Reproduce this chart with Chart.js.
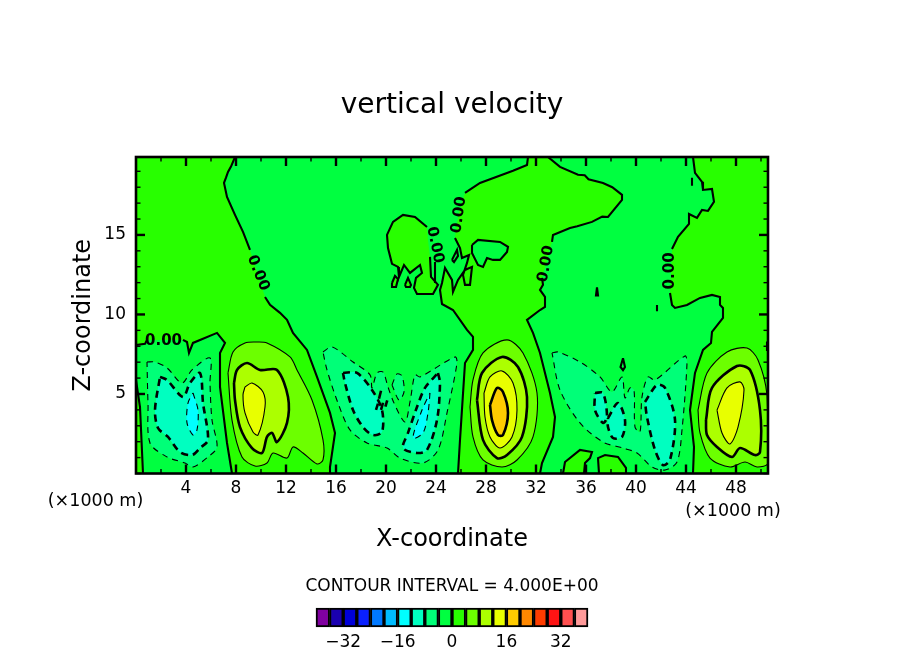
<!DOCTYPE html>
<html><head><meta charset="utf-8">
<style>html,body{margin:0;padding:0;background:#fff;width:904px;height:654px;overflow:hidden}
canvas{position:absolute;left:0}</style>
<script src="https://cdn.jsdelivr.net/npm/chart.js@4"></script></head>
<body><canvas id="main" width="904" height="654" style="top:0"></canvas>
<canvas id="bar" width="904" height="84" style="top:570px"></canvas>
<script>
const titleText = "vertical velocity", xTitle = "X-coordinate", zTitle = "Z-coordinate";
const intervalText = "CONTOUR INTERVAL = 4.000E+00", unitText = "(\u00d71000 m)";
const xMax = 50.56, zMax = 19.9;
const xTickLabels = [4,8,12,16,20,24,28,32,36,40,44,48];
const zTickLabels = [5,10,15];
const barLevels = [-40,-36,-32,-28,-24,-20,-16,-12,-8,-4,0,4,8,12,16,20,24,28,32,36,40];
const barTickLabels = [-32,-16,0,16,32];
const levelColors = ["#8000a0","#1a00b0","#0000d8","#0a20ff","#0078ff","#00bcff","#00ffff","#00ffc0","#00ff78","#00ff40","#28ff00","#6cff00","#acff00","#e8ff00","#ffcc00","#ff8800","#ff3c00","#ff1414","#ff5050","#ff9a9a"];

/* zero contour regions, [x (km), z (km)] */
const zeroLeftA = [[7.92,19.9],[7.6,19.3],[7.36,18.96],[7.2,18.6],[7.04,18.27],[7.28,17.39],[7.92,16.26],[8.56,15.19],[9.12,14.06]];
const zeroLeftB = [[10.32,11.1],[10.72,10.6],[11.52,10.1],[12.08,9.66],[12.56,8.84],[13.68,7.77],[14.48,6.07],[15.52,3.81],[15.92,2.55],[15.52,.41],[15.52,0]];
const zeroLeftC = [[7.68,0],[7.28,1.92],[6.72,5.44],[6.72,7.58],[7.12,8.21],[6.48,8.84],[4.56,8.21],[4.24,7.58],[4.08,8.27],[3.76,8.4]];
const zeroLeftD = [[.88,8.4],[.72,8.15],[0,8.08]];
const zeroSliver = [[0,5.88],[.08,5.44],[.32,4.18],[.56,0]];
const zeroMainA = [[25.76,0],[25.92,2.11],[26.32,6.95],[26.96,7.77],[26.96,8.59],[26.48,9.03],[25.36,10.28],[24.48,10.66],[24.32,11.54],[24.48,11.98],[24.72,12.93],[25.28,12.17],[25.36,11.42],[25.76,12.17],[26.32,12.8],[26.88,12.99],[26.72,11.86],[26.32,11.86],[26.16,12.49],[26.48,13.24],[26.64,13.74],[26.08,13.55],[25.92,14.18],[25.52,14.81]];
const zeroMainLabelEdgeL = [[25.6,15.38],[25.84,16.39],[26.08,17.08]];
const zeroMainB = [[26.32,17.64],[27.52,18.27],[30.16,19.03],[31.28,19.4],[31.36,19.9]];
const zeroMainC = [[32.96,19.9],[33.92,19.28],[35.36,18.78],[35.9,18.75],[36.2,18.5],[37.36,18.27],[38.1,18],[38.88,17.52],[38.88,17.2],[37.76,16.13],[37.3,16.15],[36.48,15.82],[35.3,15.55],[34.72,15.44],[33.36,15],[33.28,14.56]];
const zeroMainLabelEdgeR = [[33.04,14],[32.88,13.37]];
const zeroMainD = [[32.48,12.3],[32.56,11.86],[32.32,11.54],[32.72,11.1],[32.72,10.47],[32.32,10.28],[31.28,9.66],[31.76,8.84],[32.32,7.58],[33.12,5.06],[33.52,3.55],[33.36,2.3],[32.48,.66],[32.32,0]];
const zeroBlob = [[23.28,15.5],[22.32,16.13],[21.36,16.26],[20.56,15.82],[20.08,15],[20.16,14.18],[20.48,13.18],[20.96,12.99],[21.04,12.36],[21.44,13.11],[21.92,12.61],[22.72,13.11],[22.88,12.61],[22.4,12.3],[22.24,11.67],[22.48,11.29],[23.76,11.29],[24.16,11.86],[23.6,12.36],[23.52,13.62]];
const zeroBlobEdge = [[23.52,13.62],[23.36,14.69],[23.28,15.5]];
const zeroHole = [[26.88,14.37],[27.36,14.69],[29.12,14.56],[29.76,14.25],[29.68,13.93],[29.12,13.43],[28.56,13.43],[28.08,13.55],[27.76,12.99],[27.36,13.11],[26.88,13.87]];
const zeroHoleLoop = [[25.28,13.43],[25.68,14.06],[25.76,13.68],[25.44,13.3]];
const zeroOvalA = [[20.48,11.98],[20.72,12.42],[20.96,12.23],[20.8,11.73],[20.48,11.73]];
const zeroOvalB = [[21.52,11.86],[21.76,12.3],[22,11.86],[21.92,11.73],[21.6,11.73]];
const zeroColumn = [[23.92,13.3],[23.92,11.98]];
const zeroRightA = [[44.56,19.9],[44.72,18.9],[45.28,18.34],[45.36,17.83],[46.08,17.89],[46.24,17.08],[45.76,16.51],[45.28,16.57],[44.88,16.07],[44.24,16.32],[44.24,15.69],[43.36,14.88],[42.88,14.12]];
const zeroRightB = [[42.72,11.35],[42.88,10.6],[43.12,10.41],[44.08,10.6],[45.12,11.04],[46.08,11.23],[46.72,11.1],[46.72,10.6],[46.96,10.41],[46.96,9.78],[46.08,8.9],[46,8.21],[45.36,7.77],[44.72,6.32],[44.32,3.99],[44.64,1.67],[44.56,0]];
const zeroLobeL = [[34.16,0],[34.32,.72],[35.52,1.48],[36.48,1.35],[36.32,.97],[35.92,.66],[35.84,0]];
const zeroLobeR = [[37.04,0],[36.96,.97],[37.52,1.16],[38.56,1.04],[39.2,.35],[39.2,0]];
const zeroSpots = [
  [[44.48,18.6],[44.48,18.1]],
  [[41.68,10.6],[41.68,10.2]],
  [[36.88,11.7],[36.8,11.2],[36.96,11.2],[36.88,11.7]],
  [[50.48,8.3],[50.48,7.7]],
  [[38.96,7.25],[38.76,6.7],[38.96,6.5],[39.12,6.7],[38.96,7.25]]
];
/* closed contours */
const pos1L4 = [[7.36,6.32],[7.76,7.64],[8.72,8.21],[9.68,8.27],[10.48,8.21],[12.32,7.33],[12.88,6.51],[14.08,4.62],[14.96,2.11],[14.96,.85],[14.48,.6],[13.36,1.29],[12.56,1.67],[12.08,.97],[10.96,1.29],[10.48,.66],[9.52,.47],[8.48,1.04],[7.68,3.36]];
const pos1L8 = [[7.84,5.69],[8.08,6.51],[8.88,6.95],[9.92,6.51],[11.28,6.51],[12.16,4.81],[12.08,3.18],[11.28,1.98],[10.88,2.55],[10.48,2.3],[10.08,1.29],[9.28,1.6],[8.32,2.92],[7.92,4.62]];
const pos1L12 = [[8.72,5.44],[9.28,5.69],[10.16,5.13],[10.32,4.18],[9.76,2.42],[9.36,2.61],[8.72,3.81],[8.56,4.94]];
const pos2L4 = [[26.72,4.18],[26.96,5.88],[27.76,7.58],[29.68,8.4],[30.96,7.58],[32.08,5.06],[31.76,2.3],[30.48,.85],[29.28,.41],[27.76,.85],[26.96,2.3]];
const pos2L8 = [[27.28,4.62],[27.68,6.32],[29.28,7.33],[30.56,6.7],[31.28,4.81],[30.88,2.3],[29.68,1.16],[28.88,.97],[27.76,2.11]];
const pos2L12 = [[27.84,5.06],[28.32,6.07],[29.28,6.45],[30.16,5.69],[30.48,3.99],[30.08,2.3],[29.12,1.6],[28.32,2.3],[27.92,3.55]];
const pos2L16 = [[28.32,4.31],[28.88,5.38],[29.36,5.13],[29.76,3.81],[29.36,2.42],[28.96,2.42],[28.48,3.36]];
const pos3L4 = [[44.96,3.99],[45.68,6.32],[47.28,7.64],[48.88,7.89],[49.76,7.14],[50.48,4.94],[50.56,.66],[49.68,.41],[48.72,.72],[47.52,.41],[45.92,.97],[45.12,2.55]];
const pos3L8 = [[45.6,3.37],[46.08,5.38],[48.08,6.76],[49.12,6.51],[49.92,3.99],[49.92,1.35],[49.52,1.16],[48.32,1.6],[47.68,1.04],[46.48,1.67],[45.68,2.42]];
const pos3L12 = [[46.48,3.99],[47.28,5.38],[48.32,5.76],[48.64,5.25],[48.16,2.92],[47.52,1.86],[46.88,2.55]];
const neg1L4 = [[.88,7.01],[1.52,7.01],[2.48,6.64],[3.68,5.69],[4.48,6.51],[5.92,7.26],[5.92,5.69],[6.08,3.36],[6.48,1.67],[5.76,1.04],[4.56,.41],[3.92,.66],[2.48,1.04],[1.12,1.92],[.96,4.43]];
const neg1L8 = [[1.92,6.07],[2.48,5.88],[3.76,4.81],[4.32,5.69],[5.12,6.32],[5.36,4.43],[5.76,2.11],[5.12,1.6],[4.48,1.16],[3.52,1.35],[2.56,2.3],[1.76,2.86],[1.52,3.99]];
const neg1L12 = [[4.56,5.06],[4.96,3.99],[4.88,2.74],[4.56,2.42],[4.08,3.18],[4.16,4.43]];
const neg2L4 = [[14.96,7.64],[15.68,7.96],[17.36,7.01],[18.72,6.2],[18.88,5.38],[19.28,6.32],[19.76,6.38],[20.16,5.44],[20.64,4.43],[21.52,3.24],[21.92,4.5],[22.32,6.2],[22.72,6.07],[25.52,7.33],[25.68,6.95],[24.88,3.81],[24.16,1.48],[22.96,.66],[21.12,.97],[20.08,1.6],[18.48,1.92],[17.12,2.74],[16.16,4.43],[15.28,6.51]];
const neg2Finger = [[20.48,5.57],[20.88,6.26],[21.28,6.13],[21.44,5.13],[21.04,4.62]];
const neg2L8a = [[16.56,6.32],[17.68,6.32],[18.88,5.25],[19.68,3.99],[19.68,2.61],[18.96,2.42],[18.16,2.92],[17.36,3.99],[16.72,5.69]];
const neg2L8b = [[24.16,6.32],[24.32,5.69],[24.08,3.36],[23.28,1.48],[22.48,1.29],[21.36,1.6],[21.76,2.55],[22.48,4.18],[23.12,5.38]];
const neg2L12 = [[23.52,5.06],[23.36,3.81],[22.96,2.55],[22.16,2.23],[22.88,3.99]];
const neg2Bits = [[[19.6,5.2],[19.44,4.7]],[[19.2,4],[19.36,4.4]],[[19.6,4],[19.76,4.45]],[[19.95,4.2],[20.1,4.6]]];
const neg3L4 = [[33.28,7.58],[33.76,7.64],[35.52,7.01],[37.12,6.07],[38.08,5.13],[38.88,6.07],[39.12,4.75],[39.52,5.38],[39.84,5.25],[39.92,2.92],[40.32,2.61],[40.48,4.81],[40.96,6.07],[41.52,5.88],[43.92,7.39],[44.08,6.95],[43.68,2.74],[43.28,.72],[42.32,.22],[41.28,.41],[40.08,1.29],[38.96,1.6],[37.36,1.98],[35.52,3.18],[33.92,5.25]];
const neg3L8a = [[36.72,5.06],[37.36,5.06],[37.68,3.55],[37.36,3.18],[36.72,3.99]];
const neg3L8b = [[37.76,3.49],[38.56,4.43],[39.12,3.37],[38.88,2.3],[38.16,2.23],[37.76,2.92]];
const neg3L8c = [[40.72,4.5],[41.68,5.57],[42.32,5.38],[43.12,3.37],[42.72,.85],[42.16,.53],[41.52,1.48],[40.88,3.55]];
const contourLabels = [["0.00",2.2,8.33,0],["0.00",9.76,12.61,68],["0.00",25.84,16.26,-82],["0.00",23.92,14.37,78],["0.00",32.8,13.18,-80],["0.00",42.72,12.74,-90]];

const corners = (x0,x1)=>[[x0,0],[x1,0],[x1,zMax],[x0,zMax]];
const bandColor = lo => levelColors[(lo+40)/4];
const toPts = a => a.map(p=>({x:p[0],y:p[1]}));
const close = a => a.concat([a[0]]);
const ds = [];
function addFill(pts,lo,tension=0){ds.push({data:toPts(close(pts)),showLine:true,fill:'shape',backgroundColor:bandColor(lo),borderWidth:0,pointRadius:0,tension});}
function addLine(pts,level,tension=0){const thick=level%8===0;ds.push({data:toPts(pts),showLine:true,fill:false,borderColor:'#000',borderWidth:level===0?2.1:(thick?2.6:1.1),borderDash:level<0?(thick?[7,5]:[6,5]):[],pointRadius:0,tension});}

addFill(corners(0,xMax),-4);
addFill([[0,zMax]].concat(zeroLeftA,zeroLeftB,zeroLeftC,zeroLeftD,[[0,8.08]]),0);
addFill([[0,0]].concat(zeroSliver.slice().reverse(),[[0,5.88]]),0);
addFill(zeroMainA.concat(zeroMainLabelEdgeL,zeroMainB,zeroMainC,zeroMainLabelEdgeR,zeroMainD),0);
addFill(zeroBlob.concat(zeroBlobEdge),0);
addFill(zeroRightA.concat(zeroRightB,[[xMax,0],[xMax,zMax]]),0);
addFill(zeroLobeL,0); addFill(zeroLobeR,0); addFill(zeroOvalA,0); addFill(zeroOvalB,0);
addFill(zeroHole,-4); addFill(zeroHoleLoop,-4);
const T=.3;
[[neg1L4,-8],[neg1L8,-12],[neg1L12,-16],[neg2L4,-8],[neg2Finger,-8],[neg2L8a,-12],[neg2L8b,-12],[neg2L12,-16],[neg3L4,-8],[neg3L8a,-12],[neg3L8b,-12],[neg3L8c,-12],
 [pos1L4,4],[pos1L8,8],[pos1L12,12],[pos2L4,4],[pos2L8,8],[pos2L12,12],[pos2L16,16],[pos3L4,4],[pos3L8,8],[pos3L12,12]].forEach(([p,lo])=>addFill(p,lo,T));
[[neg1L4,-4],[neg1L8,-8],[neg1L12,-12],[neg2L4,-4],[neg2Finger,-4],[neg2L8a,-8],[neg2L8b,-8],[neg2L12,-12],[neg3L4,-4],[neg3L8a,-8],[neg3L8b,-8],[neg3L8c,-8],
 [pos1L4,4],[pos1L8,8],[pos1L12,12],[pos2L4,4],[pos2L8,8],[pos2L12,12],[pos2L16,16],[pos3L4,4],[pos3L8,8],[pos3L12,12]].forEach(([p,l])=>addLine(close(p),l,T));
neg2Bits.forEach(p=>addLine(p,8));
[zeroLeftA,zeroLeftB,zeroLeftC,zeroLeftD,zeroSliver,zeroMainA,zeroMainB,zeroMainC,zeroMainD,zeroBlob,zeroRightA,zeroRightB,zeroLobeL,zeroLobeR,zeroColumn,close(zeroHole),close(zeroHoleLoop),close(zeroOvalA),close(zeroOvalB)].forEach(p=>addLine(p,0));
zeroSpots.forEach(p=>addLine(p,0));
ds.forEach((d,i)=>{d.order=ds.length-i;});

const frame = {id:'frame',afterDatasetsDraw(c){
  const {ctx,chartArea:a,scales:{x,y}}=c; ctx.save(); ctx.strokeStyle='#000';
  const tick=(x1,y1,x2,y2,w)=>{ctx.lineWidth=w;ctx.beginPath();ctx.moveTo(x1,y1);ctx.lineTo(x2,y2);ctx.stroke();};
  x.ticks.forEach(t=>{const p=x.getPixelForValue(t.value),maj=xTickLabels.includes(t.value),l=maj?9:4.5,w=maj?2.4:1.4;
    tick(p,a.bottom,p,a.bottom-l,w);tick(p,a.top,p,a.top+l,w);});
  y.ticks.forEach(t=>{const p=y.getPixelForValue(t.value),maj=zTickLabels.includes(t.value),l=maj?9:4.5,w=maj?2.4:1.4;
    tick(a.left,p,a.left+l,p,w);tick(a.right,p,a.right-l,p,w);});
  ctx.lineWidth=2.6;ctx.strokeRect(a.left,a.top,a.right-a.left,a.bottom-a.top);
  ctx.fillStyle='#000';ctx.textAlign='center';ctx.textBaseline='middle';
  ctx.font='bold 15px "DejaVu Sans"';
  contourLabels.forEach(([s,vx,vz,ang])=>{ctx.save();ctx.translate(x.getPixelForValue(vx),y.getPixelForValue(vz));ctx.rotate(ang*Math.PI/180);ctx.fillText(s,0,0);ctx.restore();});
  ctx.font='17.5px "DejaVu Sans"';
  ctx.fillText(unitText,a.left-40.5,a.bottom+27.5);
  ctx.fillText(unitText,a.right-35,a.bottom+37.5);
  ctx.restore();
}};
const bl='#000',f=(s)=>({family:'"DejaVu Sans"',size:s});
const spacer = w => ({type:'linear',position:'right',min:0,max:1,grid:{display:false,drawTicks:false},border:{display:false},ticks:{display:false},afterFit(s){s.width=w;}});
new Chart(document.getElementById('main'),{type:'scatter',data:{datasets:ds},plugins:[frame],options:{
  responsive:false,animation:false,events:[],
  plugins:{legend:{display:false},tooltip:{enabled:false},
    title:{display:true,text:titleText,color:bl,font:{...f(28),weight:'normal'},padding:{top:89,bottom:34.4}}},
  scales:{
    x:{type:'linear',min:0,max:xMax,position:'bottom',grid:{display:false,drawTicks:false},border:{display:false},
      afterFit(s){s.height=180.5;},
      ticks:{stepSize:2,includeBounds:false,autoSkip:false,maxRotation:0,color:bl,font:f(17),padding:5,callback:v=>xTickLabels.includes(v)?String(v):''},
      title:{display:true,text:xTitle,color:bl,font:f(24),padding:{top:0,bottom:100}}},
    y:{type:'linear',min:0,max:zMax,position:'left',grid:{display:false,drawTicks:false},border:{display:false},
      afterFit(s){s.width=136;},
      ticks:{stepSize:1,includeBounds:false,autoSkip:false,color:bl,font:f(17),padding:10,callback:v=>zTickLabels.includes(v)?String(v):''},
      title:{display:true,text:zTitle,color:bl,font:f(24),padding:{top:69,bottom:0}}},
    right:spacer(136)
  }}});

const barDs = levelColors.map((col,i)=>({data:[[barLevels[i],barLevels[i+1]]],backgroundColor:col,borderColor:'#000',borderWidth:2,borderSkipped:false,barPercentage:1,categoryPercentage:1,grouped:false,clip:false}));
new Chart(document.getElementById('bar'),{type:'bar',data:{labels:[''],datasets:barDs},options:{
  indexAxis:'y',responsive:false,animation:false,events:[],
  plugins:{legend:{display:false},tooltip:{enabled:false},
    title:{display:true,text:intervalText,color:bl,font:{...f(17),weight:'normal'},padding:{top:6.8,bottom:10.8}}},
  scales:{
    x:{type:'linear',min:-40,max:40,grid:{display:false,drawTicks:false},border:{display:false},
      afterFit(s){s.height=27;},
      ticks:{stepSize:8,autoSkip:false,maxRotation:0,color:bl,font:f(17),padding:5,callback:v=>barTickLabels.includes(v)?String(v).replace('-','\u2212'):''}},
    y:{position:'left',grid:{display:false,drawTicks:false},border:{display:false},ticks:{display:false},afterFit(s){s.width=316;}},
    right:spacer(316)
  }}});
</script></body></html>
